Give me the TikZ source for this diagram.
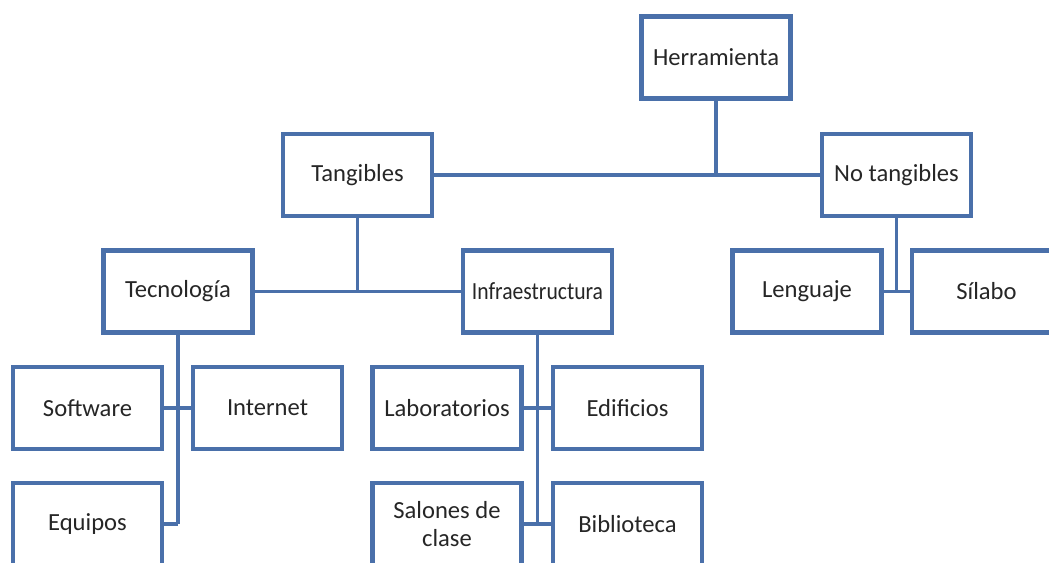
\documentclass[tikz,border=0pt]{standalone}
\usepackage{fontspec}
\setmainfont{Carlito}
\definecolor{azul}{RGB}{74,112,170}

\begin{document}
\begin{tikzpicture}
            [caja/.style={shape=rectangle, draw=azul, line width=2.3pt, fill=white,
              minimum width=2.98cm, minimum height=1.64cm, inner sep=1pt, align=center,
              text=black!85, font=\fontsize{14pt}{15.5pt}\selectfont},
             linea/.style={draw=azul, line width=2pt}]
            \path[use as bounding box, clip] (0, 0) rectangle (20.98, -11.26);

            % conectores (debajo de las cajas)
            \coordinate (t1) at (14.32, -3.5);
            \coordinate (t2) at (7.15, -5.83);
            \coordinate (t3) at (17.93, -5.83);
            \coordinate (t4) at (3.56, -10.48);
            \coordinate (t5) at (10.75, -10.48);

            \node[caja] (herr) at (14.32, -1.15) {Herramienta};
            \node[caja] (tang) at (7.15, -3.5) {Tangibles};
            \node[caja] (notang) at (17.93, -3.5) {No tangibles};
            \node[caja] (tec) at (3.56, -5.83) {Tecnología};
            \node[caja] (infra) at (10.75, -5.83) {\scalebox{0.88}[1]{Infraestructura}};
            \node[caja] (leng) at (16.14, -5.83) {Lenguaje};
            \node[caja] (sil) at (19.73, -5.83) {Sílabo};
            \node[caja] (soft) at (1.75, -8.16) {Software};
            \node[caja] (inter) at (5.35, -8.16) {Internet};
            \node[caja] (lab) at (8.94, -8.16) {Laboratorios};
            \node[caja] (edif) at (12.55, -8.16) {Edificios};
            \node[caja] (equip) at (1.75, -10.48) {Equipos};
            \node[caja] (salon) at (8.94, -10.48) {Salones de\\clase};
            \node[caja] (biblio) at (12.55, -10.48) {Biblioteca};

            \path[linea] (herr) -- (t1);
            \path[linea] (tang) -- (notang);
            \path[linea] (tang) -- (t2);
            \path[linea] (tec) -- (infra);
            \path[linea] (notang) -- (t3);
            \path[linea] (leng) -- (sil);
            \path[linea] (tec) -- (t4);
            \path[linea] (soft) -- (inter);
            \path[linea] (equip) -- (t4);
            \path[linea] (infra) -- (t5);
            \path[linea] (lab) -- (edif);
            \path[linea] (salon) -- (biblio);
\end{tikzpicture}
\end{document}
